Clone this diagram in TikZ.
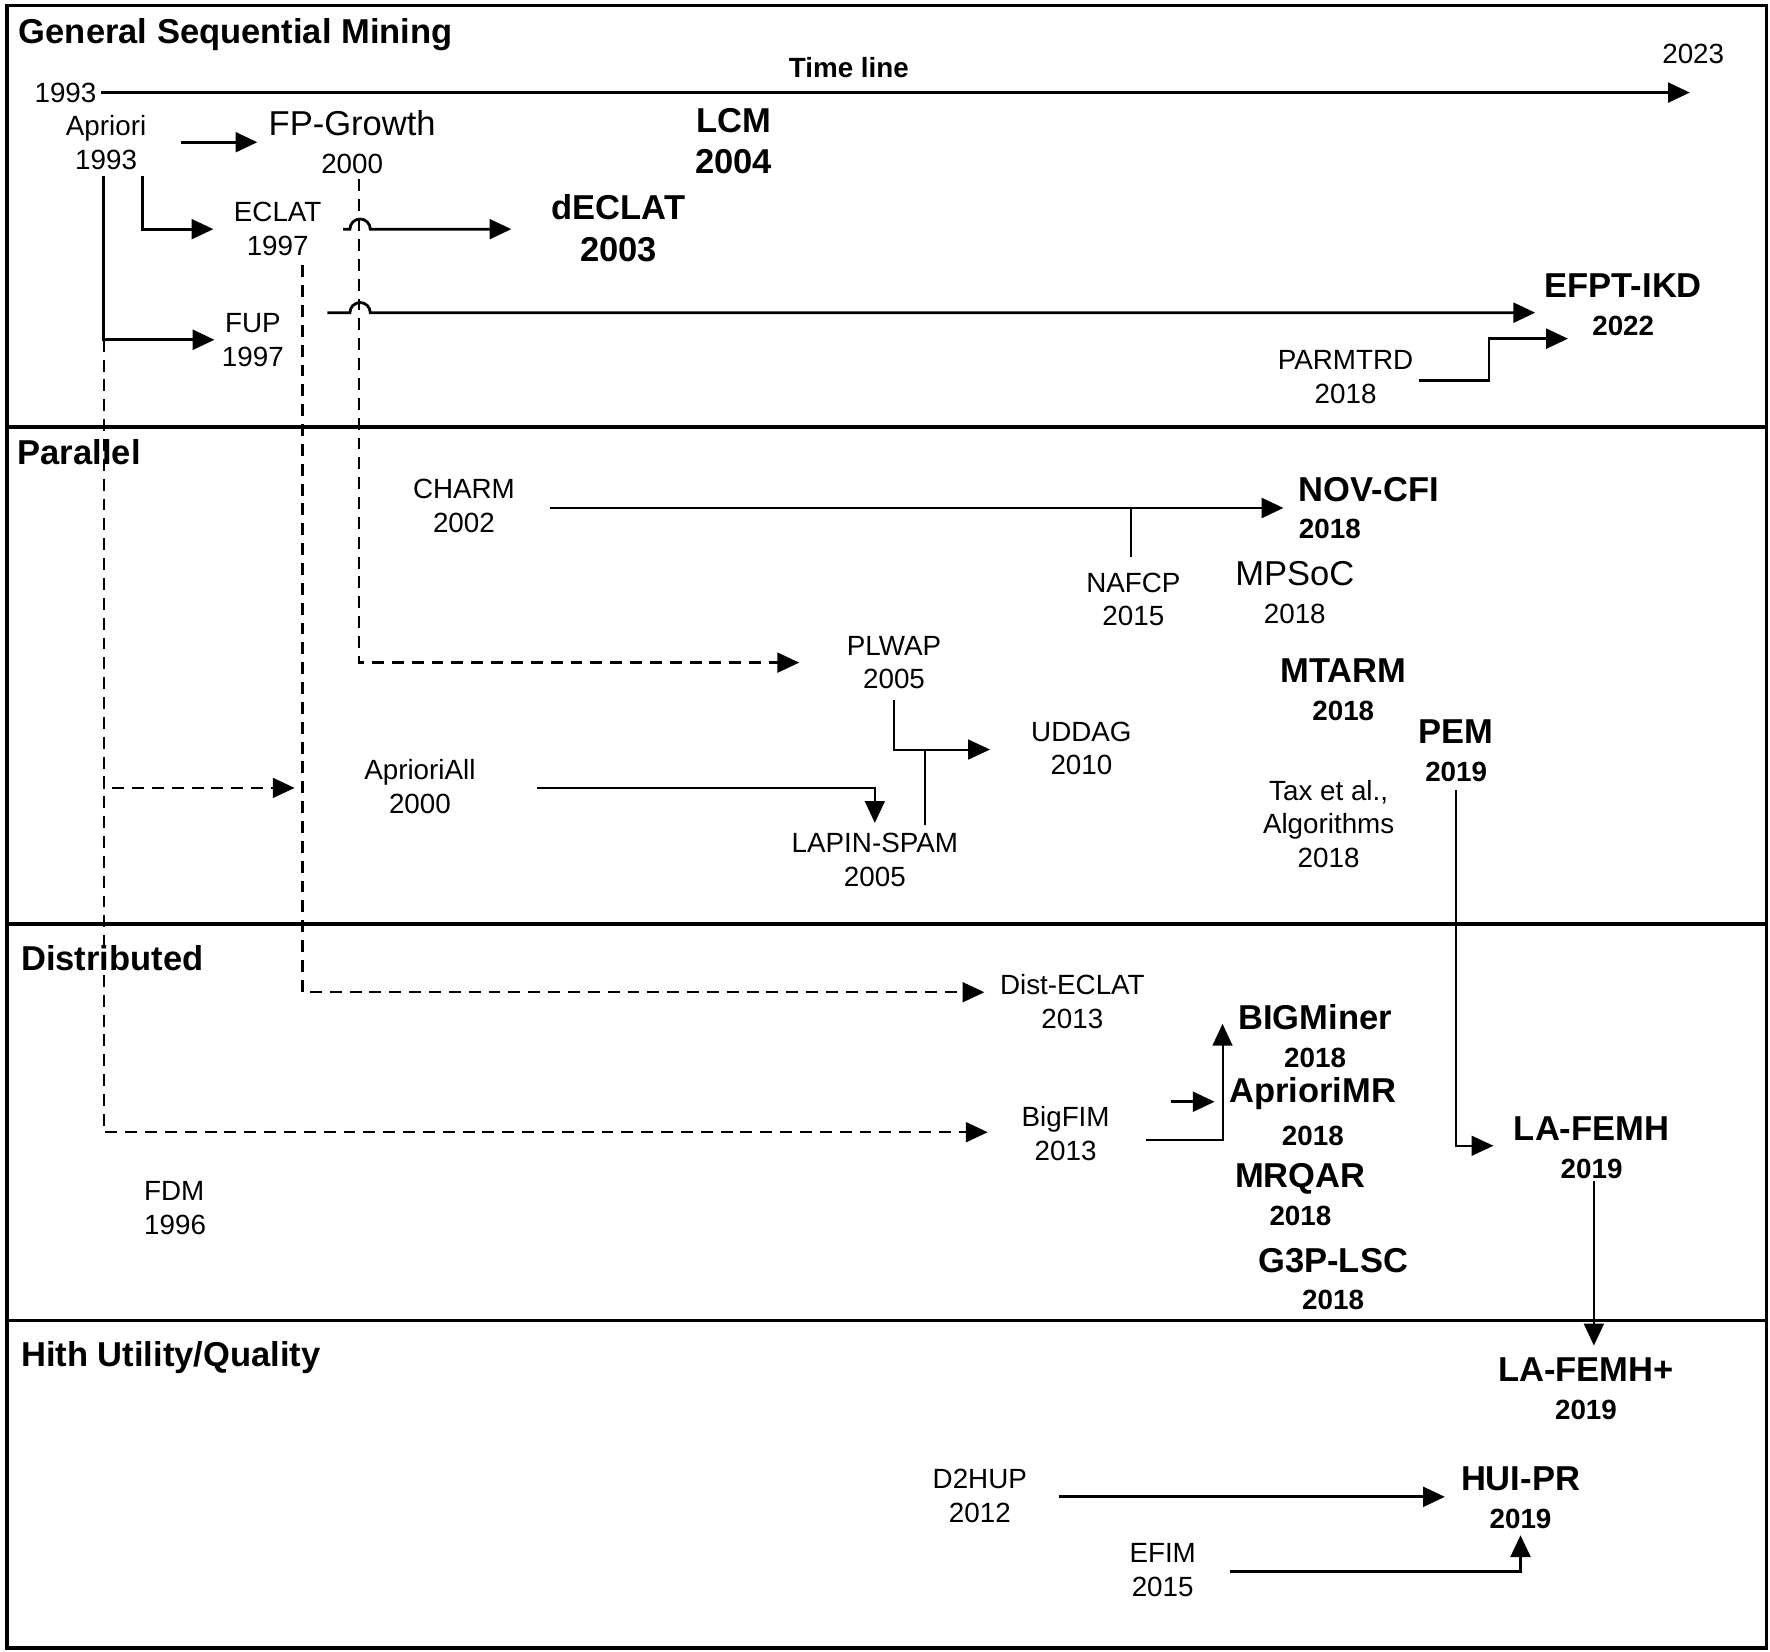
\documentclass[tikz,border=0pt]{standalone}
\usepackage{fontspec}
\setmainfont{Liberation Sans}
\usepackage{tikz}
\usetikzlibrary{arrows.meta}
\usetikzlibrary{positioning, calc}
\newcommand{\algname}[1]{{\fontsize{8.7}{9.5}\selectfont #1}}
\tikzset{
  lane/.style={
    draw, line width=0.9pt,
    minimum width=15.58cm,
    inner sep=0pt, outer sep=0pt
  },
  lanetitle/.style={
    anchor=west, inner sep=0pt,
    font=\fontsize{8.7}{10}\bfseries\selectfont
  },
  alg/.style={
    align=center, inner sep=0pt,
    font=\fontsize{7}{8.5}\selectfont
  },
  algbig/.style={alg, font=\fontsize{7}{9.4}\selectfont},
  algnew/.style={alg, font=\fontsize{7}{9.5}\bfseries\selectfont},
  algkey/.style={alg, font=\fontsize{8.7}{10.5}\bfseries\selectfont},
  myarrow/.style={
    line width=0.7pt,
    -{Triangle[length=5.5pt, width=5pt]}
  },
  thinarrow/.style={myarrow, line width=0.5pt},
  dasharrow/.style={myarrow, line width=0.6pt, dash pattern=on 3pt off 2pt},
  plainline/.style={line width=0.5pt}
}

\begin{document}
\begin{tikzpicture}[x=0.01cm, y=-0.01cm]
\useasboundingbox (0,0) rectangle (1568,1463);

% Lanes
\node [lane,
    minimum height=3.73cm,
    anchor=north west
] (gsm) at (6,5) {};

\node [lane,
    minimum height=4.40cm,
    below=0pt of gsm
] (par) {};

\node [lane,
    minimum height=3.51cm,
    below=0pt of par
] (dist) {};

\node [lane,
    minimum height=2.90cm,
    below=0pt of dist
] (hith) {};

\node [lanetitle] (gsmtitle) at ($(gsm.north west)+(10,26)$) {General Sequential Mining};
\node [lanetitle] (partitle) at ($(par.north west)+(9,22)$) {Parallel};
\node [lanetitle] (disttitle) at ($(dist.north west)+(12,30)$) {Distributed};
\node [lanetitle] (hithtitle) at ($(hith.north west)+(12,33)$) {Hith Utility/Quality};

% Time line
\node [alg] (t1993) at (58,82) {1993};
\node [alg] (t2023) at (1500,48) {2023};
\node [alg, font=\fontsize{7}{8.5}\bfseries\selectfont] (timeline) at (752,60) {Time line};
\draw [myarrow] ($(t1993.east)+(3,0)$) -- ($(t2023)+(-3,34)$);

% General sequential mining
\node [alg] (apriori) at (94,126) {Apriori\\1993};
\node [algbig] (fpgrowth) at (312,126) {\algname{FP-Growth}\\2000};
\node [algkey] (lcm) at (650,125) {LCM\\2004};
\node [alg] (eclat) at (246,203) {ECLAT\\1997};
\node [algkey] (declat) at (548,202) {dECLAT\\2003};
\node [alg] (fup) at (224,301) {FUP\\1997};
\node [algnew] (efptikd) at (1438,270) {\algname{EFPT-IKD}\\2022};
\node [alg] (parmtrd) at (1192,334) {PARMTRD\\2018};

\draw [myarrow] ($(apriori)+(66,0)$) -- ($(fpgrowth)+(-84,0)$);
\draw [myarrow] ($(apriori)+(32,30)$) |- ($(eclat)+(-57,0)$);
\draw [myarrow] ($(apriori)+(-2,30)$) |- ($(fup)+(-34,0)$);
\draw [myarrow] ($(eclat)+(58,0)$) -- ++(6,0)
    arc [start angle=180, end angle=0, radius=0.09cm]
    -- ($(declat)+(-95,1)$);
\draw [myarrow] ($(fup)+(66,-24)$) -- ++(20,0)
    arc [start angle=180, end angle=0, radius=0.09cm]
    -- ($(efptikd)+(-78,7)$);
\draw [myarrow] ($(parmtrd)+(65,3)$) -- ++(62,0) |- ($(efptikd)+(-49,30)$);

% Parallel
\node [alg] (charm) at (411,448) {CHARM\\2002};
\node [algnew, align=left, anchor=west] (novcfi) at (1150,450) {\algname{NOV-CFI}\\2018};
\node [alg] (nafcp) at (1004,531) {NAFCP\\2015};
\node [algbig] (mpsoc) at (1147,525) {\algname{MPSoC}\\2018};
\node [alg] (plwap) at (792,587) {PLWAP\\2005};
\node [algnew] (mtarm) at (1190,611) {\algname{MTARM}\\2018};
\node [alg] (uddag) at (958,663) {UDDAG\\2010};
\node [algnew] (pem) at (1290,665) {\algname{PEM}\\2019};
\node [alg] (aprioriall) at (372,697) {AprioriAll\\2000};
\node [alg] (tax) at (1177,730) {Tax et al.,\\Algorithms\\2018};
\node [alg] (lapinspam) at (775,762) {LAPIN-SPAM\\2005};

% Distributed
\node [alg] (distEclat) at (950,887) {Dist-ECLAT\\2013};
\node [algnew] (bigminer) at (1165,918) {\algname{BIGMiner}\\2018};
\node [algnew] (apriorimr) at (1163,985) {\algname{AprioriMR}\\[1.3pt]2018};
\node [alg] (bigfim) at (944,1004) {BigFIM\\2013};
\node [algnew] (lafemh) at (1410,1017) {\algname{LA-FEMH}\\2019};
\node [algnew] (mrqar) at (1152,1058) {\algname{MRQAR}\\2018};
\node [alg, align=left, anchor=west] (fdm) at (127,1070) {FDM\\1996};
\node [algnew] (g3plsc) at (1181,1133) {\algname{G3P-LSC}\\2018};

% Hith utility/quality
\node [algnew] (lafemhplus) at (1405,1230) {\algname{LA-FEMH+}\\2019};
\node [alg] (d2hup) at (868,1325) {D2HUP\\2012};
\node [algnew] (huipr) at (1347,1327) {\algname{HUI-PR}\\2019};
\node [alg] (efim) at (1030,1391) {EFIM\\2015};

% dashed links
\draw [dasharrow] ($(apriori)+(-2,175)$) |- ($(aprioriall)+(-111,1)$);
\draw [dasharrow] ($(apriori)+(-2,175)$) |- ($(bigfim)+(-69,-1)$);
\draw [dasharrow] ($(fpgrowth)+(6,33)$) |- ($(plwap)+(-84,0)$);
\draw [dasharrow] ($(eclat)+(22,32)$) |- ($(distEclat)+(-78,-8)$);

% Parallel links
\draw [myarrow] ($(charm)+(76,2)$) -- ($(novcfi.west)+(-13,0)$);
\draw [plainline] ($(nafcp)+(-2,-38)$) -- ++(0,-43);
\draw [thinarrow] ($(plwap)+(0,33)$) |- ($(uddag)+(-81,1)$);
\draw [thinarrow] ($(aprioriall)+(104,1)$) -| ($(lapinspam)+(0,-33)$);
\draw [plainline] ($(lapinspam)+(44,-31)$) -- ++(0,-67);
\draw [thinarrow] ($(pem)+(0,35)$) |- ($(lafemh)+(-87,-2)$);

% Distributed links
\draw [thinarrow] ($(bigfim)+(71,6)$) -| ($(bigminer)+(-82,-11)$);
\draw [myarrow] ($(apriorimr)+(-126,-9)$) -- ($(apriorimr)+(-87,-9)$);
\draw [thinarrow] ($(lafemh)+(2,29)$) -- ($(lafemhplus)+(7,-38)$);

% High utility links
\draw [myarrow] ($(d2hup)+(70,1)$) -- ($(huipr)+(-67,-1)$);
\draw [myarrow] ($(efim)+(60,1)$) -| ($(huipr)+(0,33)$);

\end{tikzpicture}
\end{document}
